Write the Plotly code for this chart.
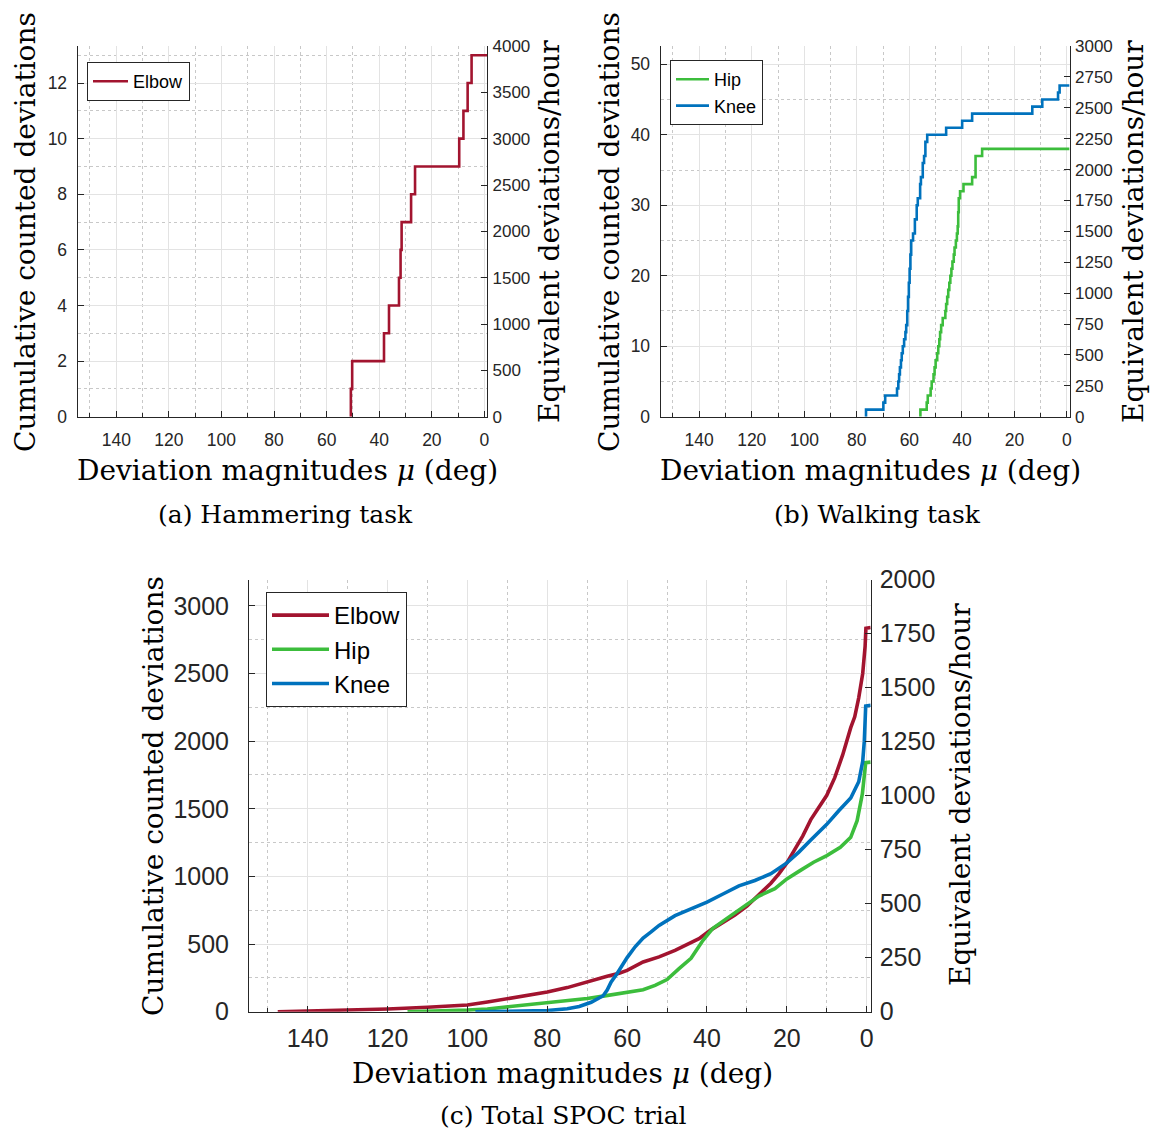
import plotly.graph_objects as go

W, H = 1154, 1132

# ---------------- data ----------------
hammer_elbow_mu = [50.8, 50.3, 38.2, 36.3, 32.5, 31.9, 31.5, 27.9, 26.4, 9.6, 8.0, 6.4, 4.9]
hammer_elbow_count = [1, 2, 3, 4, 5, 6, 7, 8, 9, 10, 11, 12, 13]

walk_hip_mu = [55.8, 53.4, 53.0, 51.9, 51.5, 50.8, 50.4, 50.0, 49.4, 49.0, 48.6, 48.3, 47.9,
               47.3, 46.3, 46.0, 45.6, 45.2, 44.8, 44.4, 44.0, 43.6, 43.1, 42.8, 42.3, 41.9,
               41.6, 41.4, 41.2, 40.7, 39.4, 36.1, 34.8, 32.3]
walk_hip_count = [1, 2, 3, 4, 5, 6, 7, 8, 9, 10, 11, 12, 13, 14, 15, 16, 17, 18, 19, 20, 21,
                  22, 23, 24, 25, 26, 27, 29, 31, 32, 33, 34, 37, 38]
walk_knee_mu = [76.5, 69.9, 69.2, 64.7, 64.2, 63.9, 63.6, 63.2, 62.9, 62.5, 62.0, 61.5, 61.2,
                60.8, 60.5, 60.2, 59.9, 59.6, 59.3, 58.6, 57.9, 57.2, 56.8, 55.9, 55.6, 54.9,
                54.4, 53.9, 53.2, 46.0, 39.9, 36.1, 13.2, 9.4, 3.4, 2.8]
walk_knee_count = [1, 2, 3, 4, 5, 6, 7, 8, 9, 10, 11, 12, 13, 15, 17, 19, 21, 23, 25, 26, 28,
                   30, 31, 33, 34, 36, 37, 39, 40, 41, 42, 43, 44, 45, 46, 47]

spoc_elbow_mu = [147.5, 140, 130, 120, 110, 100, 95, 90, 85, 80, 75, 70, 65, 62, 60, 56, 52,
                 48, 45, 42, 39, 36, 33, 30, 27, 24, 22, 20, 18, 16, 14, 12, 10, 8, 6, 4, 3,
                 2, 1, 0.4, 0.2, -1.0]
spoc_elbow_count = [0, 5, 12, 20, 33, 50, 72, 95, 120, 145, 178, 222, 262, 285, 305, 368, 405,
                    454, 500, 540, 605, 662, 715, 780, 868, 950, 1019, 1100, 1200, 1300, 1420,
                    1510, 1600, 1730, 1900, 2100, 2180, 2320, 2500, 2700, 2835, 2840]
spoc_hip_mu = [115, 105, 100, 95, 90, 85, 80, 75, 70, 66, 65, 60, 56, 53, 50, 47, 44, 41,
               38.6, 35, 31, 27, 23, 20, 16.7, 13.3, 10, 6.6, 4, 2.4, 1.1, 0.25, -1.0]
spoc_hip_count = [0, 6, 12, 20, 35, 55, 70, 85, 98, 115, 120, 147, 162, 195, 238, 319, 395,
                  528, 614, 690, 773, 855, 910, 982, 1043, 1105, 1154, 1215, 1289, 1412, 1608,
                  1841, 1845]
spoc_knee_mu = [98, 90, 85, 80, 75, 72, 69, 67, 66, 65, 64, 62.5, 62, 60, 58, 56, 54, 52, 48,
                44, 40, 36, 32, 28, 24, 20, 17, 14, 10, 7, 4, 2, 1, 0.6, 0.25, -1.0]
spoc_knee_count = [0, 2, 4, 8, 22, 38, 70, 100, 118, 160, 220, 282, 307, 400, 480, 545, 590,
                   638, 710, 757, 810, 870, 930, 970, 1020, 1100, 1180, 1270, 1385, 1485, 1580,
                   1700, 1850, 2000, 2260, 2265]

END_MU = -1.0

x_ticks = [0, 20, 40, 60, 80, 100, 120, 140]
a_left_ticks = [0, 2, 4, 6, 8, 10, 12]
a_right_ticks = [0, 500, 1000, 1500, 2000, 2500, 3000, 3500, 4000]
b_left_ticks = [0, 10, 20, 30, 40, 50]
b_right_ticks = [0, 250, 500, 750, 1000, 1250, 1500, 1750, 2000, 2250, 2500, 2750, 3000]
c_left_ticks = [0, 500, 1000, 1500, 2000, 2500, 3000]
c_right_ticks = [0, 250, 500, 750, 1000, 1250, 1500, 1750, 2000]

# ---------------- styles ----------------
ELBOW = "#A2142F"
HIP = "#3CBD3C"
KNEE = "#0072BD"
AX = "#262626"
GRID = "#E3E3E3"
MINOR = "#C8C8C8"
NARROW = "Liberation Sans Narrow, Liberation Sans, sans-serif"
SANS = "Liberation Sans, Arial, sans-serif"
SERIF = "DejaVu Serif, serif"


def step_xy(mu, cnt):
    xs = [mu[0]] + list(mu) + [END_MU]
    ys = [0] + list(cnt) + [cnt[-1]]
    return xs, ys


def px(x):
    return x / W


def py(y):
    return 1 - y / H


fig = go.Figure()

xs, ys = step_xy(hammer_elbow_mu, hammer_elbow_count)
fig.add_trace(go.Scatter(x=xs, y=ys, mode="lines", name="Elbow",
                         line=dict(color=ELBOW, width=2.6, shape="hv"),
                         xaxis="x", yaxis="y", legend="legend"))

xs, ys = step_xy(walk_hip_mu, walk_hip_count)
fig.add_trace(go.Scatter(x=xs, y=ys, mode="lines", name="Hip",
                         line=dict(color=HIP, width=2.6, shape="hv"),
                         xaxis="x2", yaxis="y3", legend="legend2"))
xs, ys = step_xy(walk_knee_mu, walk_knee_count)
fig.add_trace(go.Scatter(x=xs, y=ys, mode="lines", name="Knee",
                         line=dict(color=KNEE, width=2.6, shape="hv"),
                         xaxis="x2", yaxis="y3", legend="legend2"))

for mu, cnt, nm, col in [(spoc_elbow_mu, spoc_elbow_count, "Elbow", ELBOW),
                         (spoc_hip_mu, spoc_hip_count, "Hip", HIP),
                         (spoc_knee_mu, spoc_knee_count, "Knee", KNEE)]:
    fig.add_trace(go.Scatter(x=mu, y=cnt, mode="lines", name=nm,
                             line=dict(color=col, width=3.6),
                             xaxis="x3", yaxis="y5", legend="legend3"))

# empty traces so that the right-hand (equivalent rate) axes are drawn
for xa, ya in [("x", "y2"), ("x2", "y4"), ("x3", "y6")]:
    fig.add_trace(go.Scatter(x=[None], y=[None], mode="lines", showlegend=False,
                             hoverinfo="skip", xaxis=xa, yaxis=ya))


def xaxis(domain, anchor, fsize, standoff, family):
    return dict(domain=domain, anchor=anchor, range=[154.7, END_MU], automargin=False,
                tickmode="array", tickvals=x_ticks,
                showgrid=True, gridcolor=GRID, gridwidth=1,
                minor=dict(dtick=10, tick0=0, showgrid=True, gridcolor=MINOR,
                           griddash="dot", ticks="inside", ticklen=4, tickcolor=AX),
                ticks="inside", ticklen=6, tickcolor=AX,
                showline=True, linecolor=AX, linewidth=1, zeroline=False,
                tickfont=dict(family=family, size=fsize, color=AX),
                ticklabelstandoff=standoff, fixedrange=True)


def yleft(domain, anchor, rng, ticks, minor_dtick, fsize, standoff, family):
    return dict(domain=domain, anchor=anchor, range=rng, automargin=False,
                tickmode="array", tickvals=ticks,
                showgrid=True, gridcolor=GRID, gridwidth=1,
                minor=dict(dtick=minor_dtick, tick0=0, showgrid=True, gridcolor=MINOR,
                           griddash="dot"),
                ticks="inside", ticklen=6, tickcolor=AX,
                showline=True, linecolor=AX, linewidth=1, zeroline=False,
                tickfont=dict(family=family, size=fsize, color=AX),
                ticklabelstandoff=standoff, fixedrange=True)


def yright(overlay, anchor, rng, ticks, fsize, standoff, family):
    return dict(overlaying=overlay, anchor=anchor, side="right", range=rng,
                automargin=False,
                tickmode="array", tickvals=ticks, showgrid=False,
                ticks="inside", ticklen=6, tickcolor=AX,
                showline=True, linecolor=AX, linewidth=1, zeroline=False,
                tickfont=dict(family=family, size=fsize, color=AX),
                ticklabelstandoff=standoff, fixedrange=True)


ya_dom = [py(416.7), py(46)]
yc_dom = [py(1011.7), py(579.5)]

fig.update_layout(
    width=W, height=H, autosize=False,
    margin=dict(l=0, r=0, t=0, b=0, pad=0, autoexpand=False),
    paper_bgcolor="white", plot_bgcolor="white",
    xaxis=xaxis([px(77.6), px(487.1)], "y", 17.5, 7, NARROW),
    yaxis=yleft(ya_dom, "x", [0, 13.333], a_left_ticks, 1, 17.5, 6, NARROW),
    yaxis2=yright("y", "x", [0, 4000], a_right_ticks, 17, 1, NARROW),
    xaxis2=xaxis([px(660.6), px(1069.6)], "y3", 17.5, 7, NARROW),
    yaxis3=yleft(ya_dom, "x2", [0, 52.6], b_left_ticks, 5, 17.5, 6, NARROW),
    yaxis4=yright("y3", "x2", [0, 3000], b_right_ticks, 17, 1, NARROW),
    xaxis3=xaxis([px(249), px(870.7)], "y5", 25, 4, SANS),
    yaxis5=yleft(yc_dom, "x3", [0, 3195], c_left_ticks, 250, 25, 14, SANS),
    yaxis6=yright("y5", "x3", [0, 2000], c_right_ticks, 25, 3, SANS),
    legend=dict(x=px(87), y=py(62), xanchor="left", yanchor="top",
                bgcolor="white", bordercolor=AX, borderwidth=1,
                font=dict(family=NARROW, size=18, color="black"),
                itemwidth=35, tracegroupgap=0),
    legend2=dict(x=px(670), y=py(60), xanchor="left", yanchor="top",
                 bgcolor="white", bordercolor=AX, borderwidth=1,
                 font=dict(family=NARROW, size=18, color="black"),
                 itemwidth=33, tracegroupgap=0),
    legend3=dict(x=px(266), y=py(592), xanchor="left", yanchor="top",
                 bgcolor="white", bordercolor=AX, borderwidth=1,
                 font=dict(family=SANS, size=24, color="black"),
                 itemwidth=57, tracegroupgap=0),
    showlegend=True,
)

TITLE_FONT = dict(family=SERIF, size=28, color="black")
CAP_FONT = dict(family=SERIF, size=25, color="black")
YL = "Cumulative counted deviations"
YR = "Equivalent deviations/hour"
XT = "Deviation magnitudes <i>μ</i> (deg)"

annots = [
    (25, 232, YL, -90, TITLE_FONT), (549, 232, YR, -90, TITLE_FONT),
    (287, 470, XT, 0, TITLE_FONT), (285, 514, "(a) Hammering task", 0, CAP_FONT),
    (609, 232, YL, -90, TITLE_FONT), (1133, 232, YR, -90, TITLE_FONT),
    (870, 470, XT, 0, TITLE_FONT), (877, 514, "(b) Walking task", 0, CAP_FONT),
    (153, 796, YL, -90, TITLE_FONT), (960, 795, YR, -90, TITLE_FONT),
    (562, 1073, XT, 0, TITLE_FONT), (563, 1115, "(c) Total SPOC trial", 0, CAP_FONT),
]
for x, y, t, ang, f in annots:
    fig.add_annotation(x=px(x), y=py(y), xref="paper", yref="paper", text=t,
                       textangle=ang, showarrow=False, xanchor="center",
                       yanchor="middle", font=f)

fig.write_html("out.html")
